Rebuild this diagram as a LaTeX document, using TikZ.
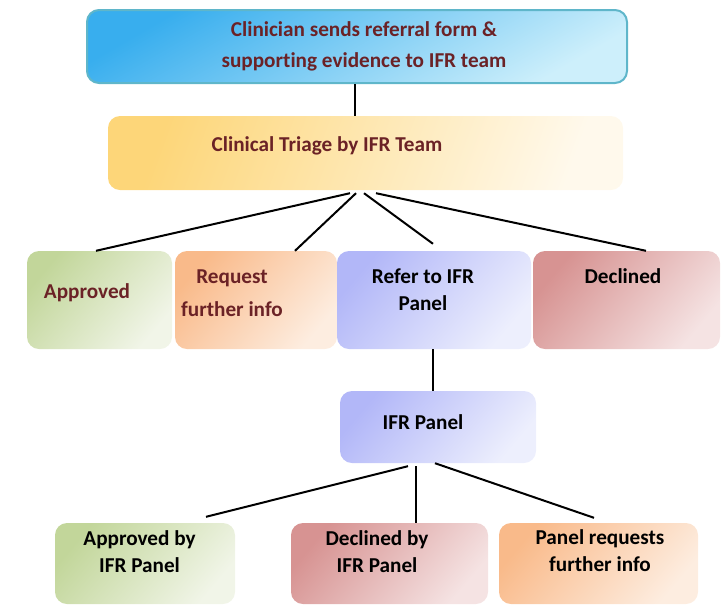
\documentclass[tikz,border=0pt]{standalone}
\usepackage{fontspec}
\setmainfont[Ligatures=NoCommon]{Carlito}
\usetikzlibrary{calc}
\definecolor{txtred}{HTML}{6B2226}
\definecolor{blueA}{HTML}{38AEEE}
\definecolor{blueB}{HTML}{CDEFFB}
\definecolor{blueLine}{HTML}{5FB6CA}
\definecolor{yelA}{HTML}{FDD679}
\definecolor{yelB}{HTML}{FFF9EC}
\definecolor{grnA}{HTML}{C2D69A}
\definecolor{grnB}{HTML}{F1F5E8}
\definecolor{orgA}{HTML}{F9BA8A}
\definecolor{orgB}{HTML}{FDEDE0}
\definecolor{lavA}{HTML}{B2B7F8}
\definecolor{lavB}{HTML}{EDEFFD}
\definecolor{redA}{HTML}{D79392}
\definecolor{redB}{HTML}{F5E3E3}
\begin{document}
\begin{tikzpicture}[x=1pt,y=-1pt,
  box/.style={rectangle, rounded corners=12pt, inner sep=0pt},
  shadebox/.style 2 args={box, top color=#1, bottom color=#2, shading angle=50},
  lbl/.style={font=\bfseries\fontsize{21.2}{#1}\selectfont, align=center, inner sep=0pt},
  conn/.style={line width=2pt, black}]
\useasboundingbox (0,0) rectangle (725,606);

% boxes
\node[box, top color=blueA, bottom color=blueB, shading angle=30, draw=blueLine, line width=2pt, minimum width=540pt, minimum height=73pt] (top) at (357,46.5) {};
\node[box, top color=yelA, bottom color=yelB, shading angle=70, minimum width=515pt, minimum height=74pt] (triage) at (365.5,153) {};
\node[shadebox={grnA}{grnB}, minimum width=145pt, minimum height=98pt] (appr) at (99.5,300) {};
\node[shadebox={orgA}{orgB}, minimum width=162pt, minimum height=98pt] (req) at (256,300) {};
\node[shadebox={lavA}{lavB}, minimum width=194pt, minimum height=98pt] (refer) at (434,300) {};
\node[shadebox={redA}{redB}, minimum width=187pt, minimum height=98pt] (decl) at (626.5,300) {};
\node[shadebox={lavA}{lavB}, minimum width=196pt, minimum height=72pt] (panel) at (438,427) {};
\node[shadebox={grnA}{grnB}, minimum width=180pt, minimum height=81pt] (pappr) at (145,563.5) {};
\node[shadebox={redA}{redB}, minimum width=197pt, minimum height=81pt] (pdecl) at (389.5,563.5) {};
\node[shadebox={orgA}{orgB}, minimum width=199pt, minimum height=81pt] (preq) at (598.5,563.5) {};

% texts
\node[lbl=31, text=txtred] (ttop) at (364,46.5) {Clinician sends referral form \&\\supporting evidence to IFR team};
\node[lbl=24, text=txtred] (ttriage) at (327,146) {Clinical Triage by IFR Team};
\node[lbl=24, text=txtred] (tappr) at (87,293) {Approved};
\node[lbl=33, text=txtred] (treq) at (232,293.5) {Request\\further info};
\node[lbl=27] (trefer) at (423,289.5) {Refer to IFR\\Panel};
\node[lbl=24] (tdecl) at (623,276) {Declined};
\node[lbl=24] (tpanel) at (423,422) {IFR Panel};
\node[lbl=27] (tpappr) at (139.5,551.5) {Approved by\\IFR Panel};
\node[lbl=27] (tpdecl) at (377,551.5) {Declined by\\IFR Panel};
\node[lbl=27] (tpreq) at (600,551) {Panel requests\\further info};

% connectors
\draw[conn] ([xshift=-2pt]top.south) -- ([xshift=-10.5pt]triage.north);
\draw[conn] ([xshift=-15.5pt,yshift=-3pt]triage.south) -- ([xshift=-3.5pt]appr.north);
\draw[conn] ([xshift=-9.5pt,yshift=-3pt]triage.south) -- ([xshift=39pt]req.north);
\draw[conn] ([xshift=-1.5pt,yshift=-3pt]triage.south) -- ([xshift=-1pt,yshift=7pt]refer.north);
\draw[conn] ([xshift=10.5pt,yshift=-3pt]triage.south) -- ([xshift=19.5pt]decl.north);
\draw[conn] ([xshift=-1pt]refer.south) -- ([xshift=-5pt]panel.north);
\draw[conn] ([xshift=-30pt,yshift=-3pt]panel.south) -- ([xshift=61pt,yshift=6pt]pappr.north);
\draw[conn] ([xshift=-22pt,yshift=-3pt]panel.south) -- ([xshift=26.5pt]pdecl.north);
\draw[conn] ([xshift=-3pt]panel.south) -- ([xshift=-4.5pt,yshift=5pt]preq.north);
\end{tikzpicture}
\end{document}
